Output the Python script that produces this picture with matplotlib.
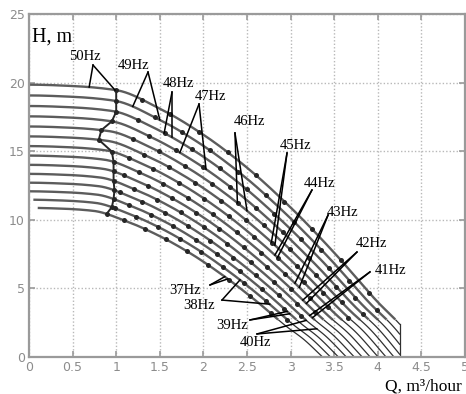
import numpy as np
import matplotlib
matplotlib.use("Agg")
import matplotlib.pyplot as plt

# ---- data ----
freqs = [50, 49, 48, 47, 46, 45, 44, 43, 42, 41, 40, 39, 38, 37]
# 50 Hz head curve (Q in m3/hour, H in m)
q50 = [0.0, 0.5, 1.0, 1.5, 2.0, 2.5, 3.0, 3.5, 4.0, 4.25, 4.55]
h50 = [19.85, 19.75, 19.45, 18.1, 16.2, 13.8, 10.9, 7.6, 4.0, 2.4, 0.0]
q_start = [0, 0, 0, 0, 0, 0, 0, 0, 0, 0, 0, 0, 0.05, 0.1]
q_cut = 4.25
h_marker_min = 2.7
# operating points marked on curves (in 50 Hz-equivalent flow)
marker_q50 = [1.3, 1.62, 1.95, 2.28, 2.6, 2.93, 3.25, 3.58, 3.9, 4.22, 4.5]
marker_shift = [0.0, 0.17]
# zig-zag column of points near Q = 1
col_q = [1.0, 1.0, 1.0, 0.95, 0.83, 0.80, 0.95, 0.97, 0.97, 0.97, 0.98, 0.97, 0.95, 0.89]

# labels: text position, line origin, two flows where the leader lines touch the curve
lab_text = ['50Hz', '49Hz', '48Hz', '47Hz', '46Hz', '45Hz', '44Hz', '43Hz', '42Hz',
            '41Hz', '40Hz', '39Hz', '38Hz', '37Hz']
lab_xy = [(0.642, 21.87), (1.204, 21.28), (1.72, 19.9), (2.076, 19.02), (2.523, 17.2),
          (3.062, 15.38), (3.337, 12.61), (3.6, 10.5), (3.933, 8.24), (4.151, 6.34),
          (2.603, 1.09), (2.328, 2.33), (1.95, 3.72), (1.789, 4.88)]
lab_org = [(0.734, 21.28), (1.365, 20.77), (1.64, 19.31), (1.95, 18.44), (2.362, 16.33),
           (2.959, 14.87), (3.245, 12.17), (3.43, 10.35), (3.761, 7.65), (3.91, 6.2),
           (2.615, 1.68), (2.534, 2.7), (2.213, 4.15), (2.076, 5.25)]
lab_q = [(0.69, 0.985), (1.19, 1.50), (1.55, 1.64), (1.73, 2.03), (2.39, 2.50),
         (2.78, 2.82), (2.82, 2.85), (3.05, 3.10), (3.14, 3.18), (3.22, 3.25),
         (3.18, 3.30), (2.96, 2.99), (2.42, 2.76), (2.245, 2.28)]

xticks = [0, 0.5, 1, 1.5, 2, 2.5, 3, 3.5, 4, 4.5, 5]
xticklabels = ['0', '0.5', '1', '1.5', '2', '2.5', '3', '3.5', '4', '4.5', '5']
yticks = [0, 5, 10, 15, 20, 25]


# ---- monotone cubic interpolation of the read curve ----
def pchip(x, y, xq):
    x = np.asarray(x, float)
    y = np.asarray(y, float)
    xq = np.atleast_1d(np.asarray(xq, float))
    h = np.diff(x)
    dl = np.diff(y) / h
    n = len(x)
    d = np.zeros(n)
    for k in range(1, n - 1):
        if dl[k - 1] * dl[k] > 0:
            w1 = 2 * h[k] + h[k - 1]
            w2 = h[k] + 2 * h[k - 1]
            d[k] = (w1 + w2) / (w1 / dl[k - 1] + w2 / dl[k])
    d[0] = 0.0
    d[-1] = dl[-1]
    i = np.clip(np.searchsorted(x, xq) - 1, 0, n - 2)
    t = (xq - x[i]) / h[i]
    h00 = 2 * t**3 - 3 * t**2 + 1
    h10 = t**3 - 2 * t**2 + t
    h01 = -2 * t**3 + 3 * t**2
    h11 = t**3 - t**2
    out = h00 * y[i] + h10 * h[i] * d[i] + h01 * y[i + 1] + h11 * h[i] * d[i + 1]
    beyond = xq > x[-1]
    out[beyond] = y[-1] + d[-1] * (xq[beyond] - x[-1])
    return out


def curve(f, q):
    r = f / 50.0
    return r * r * pchip(q50, h50, np.asarray(q) / r)


fig = plt.figure(figsize=(4.66, 3.94), dpi=100)
ax = fig.add_axes([29 / 466, 37 / 394, 436 / 466, 343 / 394])
ax.set_xlim(0, 5)
ax.set_ylim(0, 25)

serif = ['Liberation Serif', 'DejaVu Serif']

for i, f in enumerate(freqs):
    q = np.linspace(q_start[i], q_cut, 600)
    h = curve(f, q)
    ok = h >= 0
    q, h = q[ok], h[ok]
    hi = h >= h_marker_min
    ax.plot(q[hi], h[hi], color='#5c5c5c', lw=1.7, solid_capstyle='butt', zorder=2)
    lo = h <= h_marker_min + 0.02
    ax.plot(q[lo], h[lo], color='#303030', lw=0.9, zorder=2)
    # markers
    r = f / 50.0
    mq = [(m + marker_shift[i % 2]) * r for m in marker_q50]
    mq = np.array([v for v in mq if v <= q_cut])
    mh = curve(f, mq)
    sel = mh >= h_marker_min
    ax.plot(mq[sel], mh[sel], 'o', ms=3.6, color='#262626', mec='none', zorder=3)

# column of points
ch = [curve(f, q)[0] for f, q in zip(freqs, col_q)]
ax.plot(col_q, ch, '-o', color='#262626', lw=1.4, ms=3.6, mec='none', zorder=3)

# vertical cut at the right end
top_cut = curve(50, q_cut)[0]
ax.plot([q_cut, q_cut], [0, min(top_cut, h_marker_min)], color='#303030', lw=0.9, zorder=2)

# labels
for i, f in enumerate(freqs):
    tx, ty = lab_xy[i]
    ox, oy = lab_org[i]
    for qq in lab_q[i]:
        ax.plot([ox, qq], [oy, curve(f, qq)[0]], color='black', lw=1.1, zorder=4)
    ax.text(tx, ty, lab_text[i], ha='center', va='center', fontsize=10.5,
            family=serif, color='black', zorder=5)

ax.text(0.04, 23.3, 'H, m', fontsize=14.5, family=serif, ha='left', va='center')
ax.text(4.96, -2.42, 'Q, m³/hour', fontsize=12.5, family=serif, ha='right',
        va='baseline', clip_on=False)

ax.set_xticks(xticks)
ax.set_xticklabels(xticklabels)
ax.set_yticks(yticks)
ax.grid(True, color='#b8b8b8', linestyle=(0, (1, 1.5)), lw=1.0)
ax.set_axisbelow(True)
ax.tick_params(direction='in', length=4, width=1.2, colors='#9a9a9a', top=True, right=True,
               labelsize=9, labelcolor='#8c8c8c', pad=3)
for s in ax.spines.values():
    s.set_color('#9a9a9a')
    s.set_linewidth(1.6)

fig.savefig('out.png', dpi=100)
